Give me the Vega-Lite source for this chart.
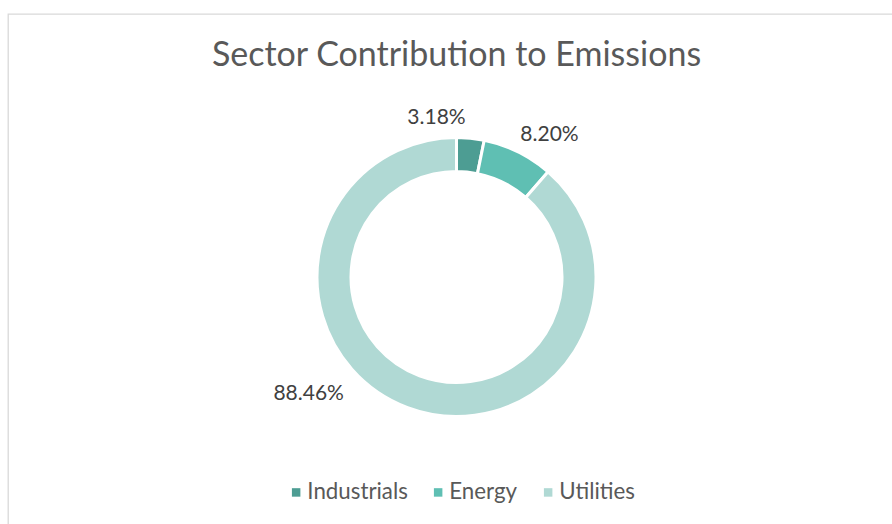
{
  "$schema": "https://vega.github.io/schema/vega-lite/v6.json",
  "width": 897,
  "height": 526,
  "autosize": {"type": "none"},
  "padding": {"left": 8, "top": 14, "right": 0, "bottom": 0},
  "background": "white",
  "view": {"stroke": "#d9d9d9", "strokeWidth": 1.3, "fill": "white"},
  "config": {"font": "Lato"},
  "title": {
    "text": "Sector Contribution to Emissions",
    "anchor": "middle",
    "frame": "group",
    "offset": -86,
    "baseline": "alphabetic",
    "fontSize": 34,
    "font": "Lato",
    "fontWeight": "normal",
    "color": "#595959"
  },
  "data": {
    "values": [
      {"sector": "Industrials", "share": 0.0318},
      {"sector": "Energy", "share": 0.082},
      {"sector": "Utilities", "share": 0.8846}
    ]
  },
  "transform": [{"window": [{"op": "row_number", "as": "rank"}]}],
  "layer": [
    {
      "mark": {"type": "arc", "innerRadius": 105.5, "outerRadius": 139.5, "stroke": "white", "strokeWidth": 3},
      "encoding": {
        "theta": {"field": "share", "type": "quantitative", "stack": true},
        "order": {"field": "rank", "type": "quantitative"},
        "color": {
          "field": "sector",
          "type": "nominal",
          "scale": {"domain": ["Industrials", "Energy", "Utilities"], "range": ["#4d9d93", "#5fbfb3", "#b0d9d4"]},
          "legend": {
            "orient": "none",
            "direction": "horizontal",
            "legendX": 277,
            "legendY": 467,
            "title": null,
            "symbolType": "square",
            "symbolSize": 72,
            "symbolStrokeWidth": 0,
            "labelFontSize": 22.3,
            "labelColor": "#595959",
            "labelFont": "Lato",
            "columnPadding": 19,
            "labelOffset": 0
          }
        }
      }
    },
    {
      "mark": {"type": "text", "radius": 160, "dx": -36, "dy": 0, "fontSize": 21, "font": "Lato", "color": "#404040"},
      "encoding": {
        "theta": {"field": "share", "type": "quantitative", "stack": true},
        "order": {"field": "rank", "type": "quantitative"},
        "text": {"condition": {"test": "datum.sector === 'Industrials'", "field": "share", "type": "quantitative", "format": ".2%"}, "value": ""}
      }
    },
    {
      "mark": {"type": "text", "radius": 165, "dx": 20, "dy": 6, "fontSize": 21, "font": "Lato", "color": "#404040"},
      "encoding": {
        "theta": {"field": "share", "type": "quantitative", "stack": true},
        "order": {"field": "rank", "type": "quantitative"},
        "text": {"condition": {"test": "datum.sector === 'Energy'", "field": "share", "type": "quantitative", "format": ".2%"}, "value": ""}
      }
    },
    {
      "mark": {"type": "text", "radius": 165, "dx": -90, "dy": -38, "fontSize": 21, "font": "Lato", "color": "#404040"},
      "encoding": {
        "theta": {"field": "share", "type": "quantitative", "stack": true},
        "order": {"field": "rank", "type": "quantitative"},
        "text": {"condition": {"test": "datum.sector === 'Utilities'", "field": "share", "type": "quantitative", "format": ".2%"}, "value": ""}
      }
    }
  ]
}
